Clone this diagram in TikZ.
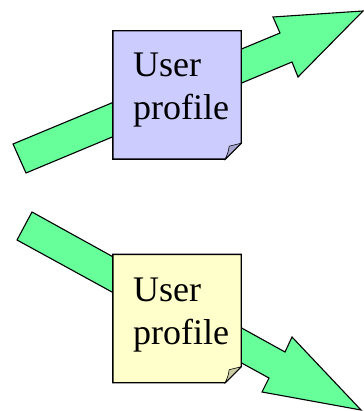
\documentclass[tikz,border=0pt]{standalone}
\usepackage{fontspec}
\setmainfont{Liberation Serif}
\usetikzlibrary{calc}
\definecolor{arrowgreen}{RGB}{102,255,153}
\definecolor{notelilac}{RGB}{204,204,255}
\definecolor{noteyellow}{RGB}{255,255,204}
\definecolor{curllilac}{RGB}{165,165,205}
\definecolor{curlyellow}{RGB}{205,205,165}
\tikzset{
  fatarrow/.style={fill=arrowgreen, draw=black, line width=1.1pt, line join=miter},
  notebox/.style={draw=none, minimum width=128pt, minimum height=128pt, inner sep=0pt},
  noteedge/.style={draw=black, line width=1.4pt, line join=miter},
  curl/.style={draw=black, line width=0.6pt},
  notetext/.style={font=\fontsize{36}{43}\selectfont, align=left, inner sep=0pt, anchor=base west}
}
\begin{document}
\begin{tikzpicture}[x=1pt, y=-1pt]
\useasboundingbox (0,0) rectangle (363,411);

% upward arrow
\filldraw[fatarrow] (13,144) -- (280,33) -- (273,17) -- (363,11) -- (298,77)
  -- (292,62) -- (26,173) -- cycle;

% downward arrow
\filldraw[fatarrow] (32,212) -- (285,352) -- (292,337) -- (361,410) -- (262,392)
  -- (269,378) -- (17,240) -- cycle;

% upper note
\node[notebox] (noteA) at (177,95) {};
\fill[notelilac, noteedge] (noteA.north west) -- (noteA.north east)
  -- ($(noteA.south east)+(0,-16)$) -- ($(noteA.south east)+(-16,0)$)
  -- (noteA.south west) -- cycle;
\filldraw[fill=curllilac, curl] ($(noteA.south east)+(0,-16)$)
  .. controls ($(noteA.south east)+(-6,-15)$) .. ($(noteA.south east)+(-12,-13)$)
  .. controls ($(noteA.south east)+(-13,-7)$) .. ($(noteA.south east)+(-16,0)$) -- cycle;
\node[notetext] (textA) at (133,120) {User\\profile};

% lower note
\node[notebox] (noteB) at (177,318.5) {};
\fill[noteyellow, noteedge] (noteB.north west) -- (noteB.north east)
  -- ($(noteB.south east)+(0,-16)$) -- ($(noteB.south east)+(-16,0)$)
  -- (noteB.south west) -- cycle;
\filldraw[fill=curlyellow, curl] ($(noteB.south east)+(0,-16)$)
  .. controls ($(noteB.south east)+(-6,-15)$) .. ($(noteB.south east)+(-12,-13)$)
  .. controls ($(noteB.south east)+(-13,-7)$) .. ($(noteB.south east)+(-16,0)$) -- cycle;
\node[notetext] (textB) at (133,344) {User\\profile};
\end{tikzpicture}
\end{document}
